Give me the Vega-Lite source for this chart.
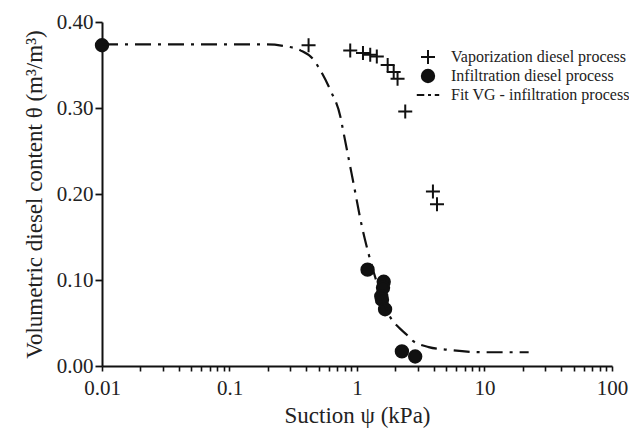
{
  "$schema": "https://vega.github.io/schema/vega-lite/v6.json",
  "autosize": "none",
  "width": 510,
  "height": 344,
  "padding": {"left": 102, "top": 22, "right": 17, "bottom": 66},
  "background": "white",
  "config": {
    "font": "Liberation Serif",
    "view": {"stroke": null},
    "axis": {"labelFont": "Liberation Serif", "titleFont": "Liberation Serif", "labelColor": "#222", "titleColor": "#222", "domainColor": "#111", "tickColor": "#111", "ticks": true, "grid": false}
  },
  "datasets": {
    "measured": [
      {"series": "Vaporization diesel process", "psi": 0.417, "theta": 0.373},
      {"series": "Vaporization diesel process", "psi": 0.885, "theta": 0.367},
      {"series": "Vaporization diesel process", "psi": 1.114, "theta": 0.364},
      {"series": "Vaporization diesel process", "psi": 1.27, "theta": 0.362},
      {"series": "Vaporization diesel process", "psi": 1.43, "theta": 0.36},
      {"series": "Vaporization diesel process", "psi": 1.74, "theta": 0.35},
      {"series": "Vaporization diesel process", "psi": 1.94, "theta": 0.342},
      {"series": "Vaporization diesel process", "psi": 2.08, "theta": 0.334},
      {"series": "Vaporization diesel process", "psi": 2.39, "theta": 0.296},
      {"series": "Vaporization diesel process", "psi": 3.94, "theta": 0.203},
      {"series": "Vaporization diesel process", "psi": 4.24, "theta": 0.188},
      {"series": "Infiltration diesel process", "psi": 0.01, "theta": 0.373},
      {"series": "Infiltration diesel process", "psi": 1.21, "theta": 0.112},
      {"series": "Infiltration diesel process", "psi": 1.62, "theta": 0.098},
      {"series": "Infiltration diesel process", "psi": 1.6, "theta": 0.091},
      {"series": "Infiltration diesel process", "psi": 1.55, "theta": 0.081},
      {"series": "Infiltration diesel process", "psi": 1.57, "theta": 0.077},
      {"series": "Infiltration diesel process", "psi": 1.66, "theta": 0.066},
      {"series": "Infiltration diesel process", "psi": 2.25, "theta": 0.017},
      {"series": "Infiltration diesel process", "psi": 2.86, "theta": 0.011}
    ],
    "fit": [
      {"psi": 0.01, "theta": 0.374},
      {"psi": 0.05, "theta": 0.374},
      {"psi": 0.1, "theta": 0.374},
      {"psi": 0.197, "theta": 0.374},
      {"psi": 0.27, "theta": 0.372},
      {"psi": 0.36, "theta": 0.367},
      {"psi": 0.457, "theta": 0.356},
      {"psi": 0.515, "theta": 0.344},
      {"psi": 0.617, "theta": 0.321},
      {"psi": 0.74, "theta": 0.29},
      {"psi": 0.785, "theta": 0.271},
      {"psi": 0.94, "theta": 0.212},
      {"psi": 1.094, "theta": 0.162},
      {"psi": 1.23, "theta": 0.131},
      {"psi": 1.5, "theta": 0.088},
      {"psi": 1.82, "theta": 0.057},
      {"psi": 2.12, "theta": 0.045},
      {"psi": 2.47, "theta": 0.036},
      {"psi": 2.7, "theta": 0.03},
      {"psi": 3.65, "theta": 0.022},
      {"psi": 5.08, "theta": 0.019},
      {"psi": 9.84, "theta": 0.016},
      {"psi": 22.2, "theta": 0.016}
    ]
  },
  "layer": [
    {
      "data": {"name": "measured"},
      "mark": {"type": "point", "stroke": "#111", "strokeWidth": 2, "opacity": 1, "clip": false},
      "encoding": {
        "x": {"field": "psi", "type": "quantitative", "scale": {"type": "log", "domain": [0.01, 100], "nice": false},
          "axis": {"orient": "bottom",
            "values": [0.01, 0.02, 0.03, 0.04, 0.05, 0.06, 0.07, 0.08, 0.09, 0.1, 0.2, 0.3, 0.4, 0.5, 0.6, 0.7, 0.8, 0.9, 1, 2, 3, 4, 5, 6, 7, 8, 9, 10, 20, 30, 40, 50, 60, 70, 80, 90, 100],
            "labelExpr": "abs(log(datum.value)/LN10 - round(log(datum.value)/LN10)) < 0.000001 ? (datum.value < 1 ? format(datum.value, '.2~f') : format(datum.value, 'd')) : ''",
            "labelOverlap": false,
            "ticks": true, "tickSize": 5, "tickWidth": 1.6, "tickColor": "#111",
            "title": "Suction ψ (kPa)", "titleFontSize": 23, "titleFontWeight": "normal", "labelFontSize": 21, "domainWidth": 2, "labelPadding": 6, "titlePadding": 6, "labelFlush": false}},
        "y": {"field": "theta", "type": "quantitative", "scale": {"domain": [0, 0.4], "nice": false, "zero": false},
          "axis": {"orient": "left", "values": [0, 0.1, 0.2, 0.3, 0.4], "format": ".2f",
            "ticks": true, "tickSize": 7, "tickWidth": 1.8, "tickColor": "#111",
            "title": "Volumetric diesel content θ (m³/m³)", "titleFontSize": 23, "titleFontWeight": "normal", "labelFontSize": 21, "domainWidth": 2, "labelPadding": 2, "titlePadding": 10, "labelFlush": false}},
        "shape": {"field": "series", "type": "nominal",
          "scale": {"domain": ["Vaporization diesel process", "Infiltration diesel process", "Fit VG - infiltration process"],
            "range": ["M-1,0H1M0,-1V1", "circle", "M-2.14,0H-0.71M0,0H0.57M1.29,0H2.14"]},
          "legend": {"title": null, "orient": "none", "legendX": 318, "legendY": 27, "labelFontSize": 16, "labelFont": "Liberation Serif", "labelColor": "#222", "labelOffset": 15, "rowPadding": -4, "symbolStrokeColor": "#111", "symbolStrokeWidth": 2, "labelLimit": 300}},
        "fill": {"field": "series", "type": "nominal",
          "scale": {"domain": ["Vaporization diesel process", "Infiltration diesel process", "Fit VG - infiltration process"], "range": ["transparent", "#111", "transparent"]}},
        "size": {"field": "series", "type": "nominal",
          "scale": {"domain": ["Vaporization diesel process", "Infiltration diesel process", "Fit VG - infiltration process"], "range": [196, 110, 196]}}
      }
    },
    {
      "data": {"name": "fit"},
      "mark": {"type": "line", "color": "#111", "strokeWidth": 2.2, "strokeDash": [16, 7, 3, 7], "interpolate": "monotone", "clip": false},
      "encoding": {
        "x": {"field": "psi", "type": "quantitative"},
        "y": {"field": "theta", "type": "quantitative"}
      }
    }
  ]
}
